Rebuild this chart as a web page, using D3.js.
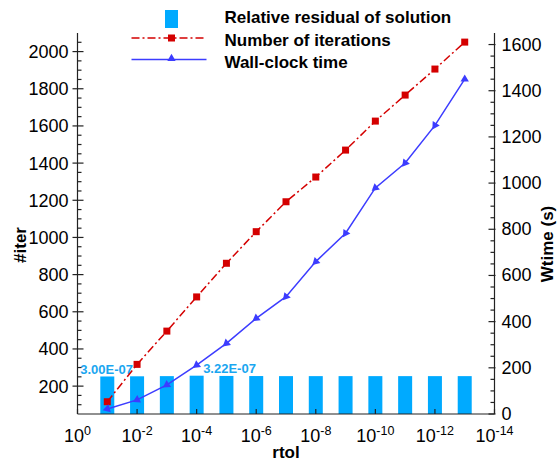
<!DOCTYPE html>
<html>
<head>
<meta charset="utf-8">
<script src="https://cdn.jsdelivr.net/npm/d3@7"></script>
<style>
  body { margin: 0; background: #fff; }
  svg { display: block; font-family: "Liberation Sans", Arial, Helvetica, sans-serif; }
</style>
</head>
<body>
<svg id="chart"></svg>
<script>
// rtol values (x), one per decade
const rtol = [1e-1, 1e-2, 1e-3, 1e-4, 1e-5, 1e-6, 1e-7, 1e-8, 1e-9, 1e-10, 1e-11, 1e-12, 1e-13];
const iterations = [116, 317, 496, 680, 861, 1031, 1192, 1325, 1470, 1626, 1766, 1906, 2051];
const wtime = [22, 61, 126, 212, 306, 414, 508, 660, 783, 979, 1087, 1250, 1450];
const residual = [3.00e-7, 3.05e-7, 3.10e-7, 3.22e-7, 3.15e-7, 3.12e-7, 3.10e-7, 3.10e-7, 3.10e-7, 3.10e-7, 3.10e-7, 3.10e-7, 3.10e-7];
const residualLabels = [{ i: 0, text: "3.00E-07", dx: -27 }, { i: 3, text: "3.22E-07", dx: 6.5 }];
const xTicks = [1e0, 1e-2, 1e-4, 1e-6, 1e-8, 1e-10, 1e-12, 1e-14];
const leftTicks = d3.range(200, 2001, 200);
const rightTicks = d3.range(0, 1601, 200);
const legendItems = ["Relative residual of solution", "Number of iterations", "Wall-clock time"];

const W = 558, H = 463;
const pLeft = 77.5, pRight = 494.5, pTop = 33, pBottom = 414;
const red = "#d40000", blue = "#3c3cff", cyan = "#00aaff", labCol = "#1aa6f0";

const svg = d3.select("#chart").attr("width", W).attr("height", H);

const x = d3.scaleLog().domain([1e0, 1e-14]).range([pLeft, pRight]);
const yL = d3.scaleLinear().domain([50, 2100]).range([pBottom, pTop]);
const yR = d3.scaleLinear().domain([0, 1650]).range([pBottom, pTop]);
const yRes = d3.scaleLog().domain([1e-8, 1e7]).range([pBottom, pTop]);

// bars
const barW = 14;
svg.append("g").selectAll("rect")
  .data(residual)
  .join("rect")
  .attr("x", (d, i) => x(rtol[i]) - barW / 2)
  .attr("y", d => yRes(d))
  .attr("width", barW)
  .attr("height", d => pBottom - yRes(d))
  .attr("fill", cyan);

svg.append("g").selectAll("text")
  .data(residualLabels)
  .join("text")
  .attr("x", d => x(rtol[d.i]) + d.dx)
  .attr("y", d => yRes(residual[d.i]) - 2.5)
  .attr("fill", labCol)
  .attr("font-size", 13)
  .attr("font-weight", "bold")
  .text(d => d.text);

// axes lines
const axes = svg.append("g").attr("stroke", "#222").attr("stroke-width", 1.2).attr("fill", "none");
axes.append("line").attr("x1", pLeft).attr("x2", pRight).attr("y1", pBottom).attr("y2", pBottom);
axes.append("line").attr("x1", pLeft).attr("x2", pLeft).attr("y1", pTop).attr("y2", pBottom);
axes.append("line").attr("x1", pRight).attr("x2", pRight).attr("y1", pTop).attr("y2", pBottom);

// left ticks
axes.selectAll(".lmin").data(d3.range(100, 2100, 50).filter(v => v % 200 !== 0))
  .join("line").attr("x1", pLeft).attr("x2", pLeft + 4)
  .attr("y1", d => yL(d)).attr("y2", d => yL(d));
axes.selectAll(".lmaj").data(leftTicks)
  .join("line").attr("x1", pLeft - 5).attr("x2", pLeft + 6)
  .attr("y1", d => yL(d)).attr("y2", d => yL(d));
// right ticks
axes.selectAll(".rmin").data(d3.range(50, 1650, 50).filter(v => v % 200 !== 0))
  .join("line").attr("x1", pRight - 4).attr("x2", pRight)
  .attr("y1", d => yR(d)).attr("y2", d => yR(d));
axes.selectAll(".rmaj").data(rightTicks)
  .join("line").attr("x1", pRight - 6).attr("x2", pRight + 1)
  .attr("y1", d => yR(d)).attr("y2", d => yR(d));
// bottom ticks
axes.selectAll(".bmaj").data(xTicks)
  .join("line").attr("x1", d => x(d)).attr("x2", d => x(d))
  .attr("y1", pBottom).attr("y2", pBottom - 5);

const tickFont = 18;
svg.append("g").selectAll("text").data(leftTicks).join("text")
  .attr("x", pLeft - 9).attr("y", d => yL(d) + 6.5)
  .attr("text-anchor", "end").attr("font-size", tickFont).text(d => d);
svg.append("g").selectAll("text").data(rightTicks).join("text")
  .attr("x", pRight + 7).attr("y", d => yR(d) + 6)
  .attr("font-size", tickFont).text(d => d);

const xl = svg.append("g").selectAll("text").data(xTicks).join("text")
  .attr("x", d => x(d)).attr("y", 442)
  .attr("text-anchor", "middle").attr("font-size", tickFont);
xl.append("tspan").text("10");
xl.append("tspan").attr("dy", -7.5).attr("font-size", 12.5)
  .text(d => { const e = Math.round(Math.log10(d)); return e === 0 ? "0" : "-" + (-e); });

// axis titles
svg.append("text").attr("x", (pLeft + pRight) / 2).attr("y", 458)
  .attr("text-anchor", "middle").attr("font-size", 17).attr("font-weight", "bold").text("rtol");
svg.append("text").attr("transform", "translate(26,245) rotate(-90)")
  .attr("text-anchor", "middle").attr("font-size", 17).attr("font-weight", "bold").text("#iter");
svg.append("text").attr("transform", "translate(553,244) rotate(-90)")
  .attr("text-anchor", "middle").attr("font-size", 17).attr("font-weight", "bold").text("Wtime (s)");

// lines
const lineIter = d3.line().x((d, i) => x(rtol[i])).y(d => yL(d));
const lineTime = d3.line().x((d, i) => x(rtol[i])).y(d => yR(d));

svg.append("path").datum(iterations).attr("d", lineIter)
  .attr("fill", "none").attr("stroke", red).attr("stroke-width", 1.5)
  .attr("stroke-dasharray", "8,3,2,3");
svg.append("path").datum(wtime).attr("d", lineTime)
  .attr("fill", "none").attr("stroke", blue).attr("stroke-width", 1.5);

const sq = 7;
svg.append("g").selectAll("rect").data(iterations).join("rect")
  .attr("x", (d, i) => x(rtol[i]) - sq / 2).attr("y", d => yL(d) - sq / 2)
  .attr("width", sq).attr("height", sq).attr("fill", red);

const tri = d3.symbol().type(d3.symbolTriangle).size(30);
svg.append("g").selectAll("path").data(wtime).join("path")
  .attr("d", tri)
  .attr("fill", blue)
  .attr("transform", (d, i) => {
    const px = x(rtol[i]), py = yR(d);
    let ang = 0;
    if (i < wtime.length - 1) {
      const nx = x(rtol[i + 1]), ny = yR(wtime[i + 1]);
      ang = Math.atan2(ny - py, nx - px) * 180 / Math.PI - 90;
    }
    return `translate(${px},${py}) rotate(${ang})`;
  });

// legend
const lg = svg.append("g");
lg.append("rect").attr("x", 165).attr("y", 10).attr("width", 13).attr("height", 18).attr("fill", cyan);
lg.append("line").attr("x1", 131.5).attr("x2", 206.5).attr("y1", 38).attr("y2", 38)
  .attr("stroke", red).attr("stroke-width", 1.5).attr("stroke-dasharray", "8,3,2,3");
lg.append("rect").attr("x", 171.5 - sq / 2).attr("y", 38 - sq / 2).attr("width", sq).attr("height", sq).attr("fill", red);
lg.append("line").attr("x1", 131.5).attr("x2", 206.5).attr("y1", 59.5).attr("y2", 59.5)
  .attr("stroke", blue).attr("stroke-width", 1.5);
lg.append("path").attr("d", tri).attr("transform", "translate(171.5,58.5)").attr("fill", blue);
lg.selectAll("text").data(legendItems).join("text")
  .attr("x", 224.5).attr("y", (d, i) => 23 + i * 22.5)
  .attr("font-size", 17).attr("font-weight", "bold").text(d => d);
</script>
</body>
</html>
